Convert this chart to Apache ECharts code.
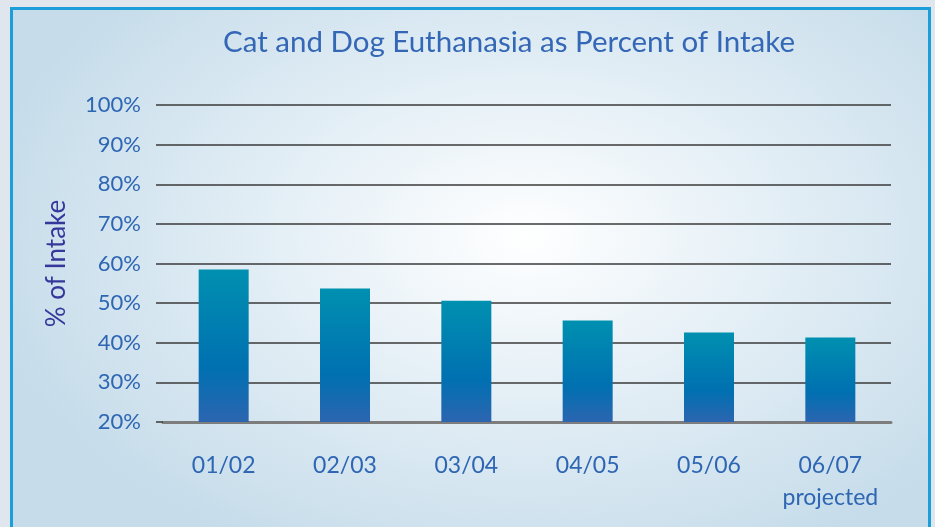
<!DOCTYPE html>
<html>
<head>
<meta charset="utf-8">
<script src="https://cdn.jsdelivr.net/npm/echarts@6/dist/echarts.min.js"></script>
<style>
  html, body { margin: 0; padding: 0; background: #dfe6ee; }
  #frame {
    position: absolute; left: 10px; top: 7px; width: 915px; height: 540px;
    border: 3px solid #1c9fd8;
    background: radial-gradient(ellipse 60% 65% at 56% 42%, #ffffff 0%, #e4eff6 45%, #c6dcea 100%);
  }
  #main { position: absolute; left: 0; top: 0; width: 935px; height: 527px; }
</style>
</head>
<body>
<div id="frame"></div>
<div id="main"></div>
<script>
// years and euthanasia share of intake (%)
var years = ['01/02', '02/03', '03/04', '04/05', '05/06', '06/07\nprojected']
var percentOfIntake = [58.5, 53.7, 50.6, 45.6, 42.6, 41.3]

var chart = echarts.init(document.getElementById('main'))
chart.setOption({
  backgroundColor: 'transparent',
  title: {
    text: 'Cat and Dog Euthanasia as Percent of Intake',
    left: 218,
    top: 22,
    textStyle: {
      fontFamily: 'Lato',
      fontWeight: 'normal',
      fontSize: 29.5,
      color: '#3467b5'
    }
  },
  grid: {
    left: 163,
    right: 44,
    top: 105,
    bottom: 105
  },
  xAxis: {
    type: 'category',
    data: years,
    axisLine: {
      lineStyle: { color: '#7d7d7d', width: 3 }
    },
    axisTick: {
      interval: 0,
      length: 9,
      lineStyle: { color: '#666', width: 2 }
    },
    axisLabel: {
      interval: 0,
      margin: 28,
      fontFamily: 'Lato',
      fontSize: 23,
      lineHeight: 32,
      color: '#2e66b3'
    }
  },
  yAxis: {
    type: 'value',
    min: 20,
    max: 100,
    interval: 10,
    name: '% of Intake',
    nameLocation: 'middle',
    nameGap: 93,
    nameTextStyle: {
      fontFamily: 'Lato',
      fontSize: 26,
      color: '#35389a'
    },
    axisLine: { show: false },
    axisTick: {
      show: true,
      length: 7,
      lineStyle: { color: '#3a3a3a', width: 1.5 }
    },
    splitLine: {
      lineStyle: { color: '#3a3a3a', width: 1.5 }
    },
    axisLabel: {
      margin: 22,
      formatter: '{value}%',
      fontFamily: 'Lato',
      fontSize: 22,
      color: '#2e66b3'
    }
  },
  series: [{
    type: 'bar',
    data: percentOfIntake,
    barWidth: 50,
    itemStyle: {
      color: new echarts.graphic.LinearGradient(0, 0, 0, 1, [
        { offset: 0, color: '#0090b0' },
        { offset: 0.65, color: '#0070b1' },
        { offset: 1, color: '#2c65b0' }
      ])
    },
    animation: false
  }]
})
</script>
</body>
</html>
